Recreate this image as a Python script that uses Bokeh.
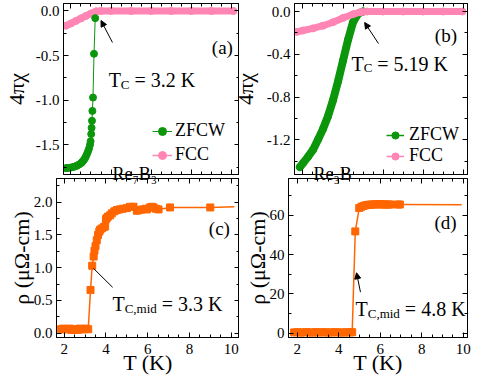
import numpy as np
from bokeh.plotting import figure
from bokeh.layouts import row, column
from bokeh.models import (FixedTicker, LinearAxis, Range1d, Label, Arrow, NormalHead,
                          Legend, LegendItem)
from bokeh.embed import file_html
from bokeh.resources import INLINE

FONT = "Liberation Serif"
GREEN = "#0b960b"
PINK = "#ff85b4"
ORANGE = "#ff6600"

# ---------------- data ----------------
# (a) Re7B3 susceptibility
a_zfcw_T = [1.75, 1.80, 1.90, 2.00, 2.10, 2.20, 2.30, 2.40, 2.50, 2.55,
            2.60, 2.65, 2.70, 2.75, 2.80, 2.85, 2.90, 2.95, 2.98, 3.01,
            3.03, 3.05, 3.07, 3.10, 3.15, 3.21]
a_zfcw_chi = [-1.762, -1.760, -1.758, -1.755, -1.750, -1.743, -1.734, -1.722, -1.706, -1.696,
              -1.683, -1.668, -1.650, -1.628, -1.603, -1.575, -1.543, -1.500, -1.46, -1.38,
              -1.31, -1.23, -1.12, -0.97, -0.48, -0.08]
a_fcc_T = [1.75, 2.00, 2.25, 2.50, 2.75, 3.00, 3.25, 3.50, 4.0, 5.0, 6.0, 7.0, 8.0, 9.0, 10.1]
a_fcc_chi = [-0.165, -0.140, -0.112, -0.083, -0.055, -0.028, -0.004, 0.0, 0.0, 0.0,
             0.0, 0.0, 0.0, 0.0, 0.0]

# (b) Re3B susceptibility
b_zfcw_T = [1.85, 2.00, 2.25, 2.50, 2.75, 3.00, 3.25, 3.50, 3.75, 4.00, 4.25, 4.50, 4.75, 5.00]
b_zfcw_chi = [-1.455, -1.420, -1.360, -1.295, -1.200, -1.100, -0.980, -0.830, -0.655, -0.460,
              -0.265, -0.100, -0.020, 0.0]
b_fcc_T = [1.70, 2.00, 2.50, 3.00, 3.50, 4.00, 4.50, 4.90, 5.20, 6.0, 7.0, 8.0, 9.0, 9.95]
b_fcc_chi = [-0.190, -0.178, -0.158, -0.133, -0.100, -0.060, -0.025, -0.005, 0.0, 0.0,
             0.0, 0.0, 0.0, 0.0]

# (c) Re7B3 resistivity
c_T = [1.85, 1.95, 2.05, 2.15, 2.25, 2.35, 2.45, 2.55, 2.65, 2.75, 2.85, 2.95, 3.05, 3.15,
       3.26, 3.34, 3.41, 3.45, 3.50, 3.56, 3.62, 3.68, 3.72, 3.80, 3.90, 3.96,
       4.00, 4.04, 4.10, 4.20, 4.28, 4.40, 4.52, 4.65, 4.80, 5.00,
       5.15, 5.32, 5.48, 5.60, 5.75, 5.90, 5.96, 6.10, 6.20, 6.28,
       6.40, 6.52, 7.07, 9.00, 10.15]
c_rho = [0.06, 0.07, 0.06, 0.06, 0.07, 0.05, 0.06, 0.06, 0.05, 0.07, 0.06, 0.06, 0.07, 0.06,
         0.66, 1.03, 1.17, 1.26, 1.33, 1.42, 1.50, 1.55, 1.58, 1.60, 1.62, 1.63,
         1.74, 1.76, 1.78, 1.80, 1.83, 1.86, 1.88, 1.89, 1.90, 1.91,
         1.93, 1.93, 1.87, 1.88, 1.89, 1.90, 1.89, 1.92, 1.93, 1.92,
         1.90, 1.89, 1.92, 1.92, 1.93]

# (d) Re3B resistivity
d_T = [1.85, 2.00, 2.15, 2.30, 2.45, 2.60, 2.75, 2.90, 3.05, 3.20,
       3.35, 3.50, 3.65, 3.80, 3.95, 4.10, 4.25, 4.40, 4.55, 4.65,
       4.80, 4.99, 5.10, 5.20, 5.30, 5.40, 5.50, 5.60, 5.70, 5.80,
       5.90, 6.00, 6.10, 6.20, 6.30, 6.40, 6.50, 6.85, 6.95, 9.93]
d_rho = [0.4, 0.5, 0.3, 0.4, 0.5, 0.4, 0.3, 0.5, 0.4, 0.4,
         0.5, 0.3, 0.4, 0.5, 0.4, 0.4, 0.3, 0.5, 0.4, 0.5,
         51.9, 63.8, 64.5, 64.9, 65.2, 65.4, 65.5, 65.6, 65.6, 65.7,
         65.7, 65.7, 65.7, 65.6, 65.6, 65.6, 65.6, 65.6, 65.6, 65.5]

X_TICKS = [2, 4, 6, 8, 10]
X_TICK_LABELS = ["2", "4", "6", "8", "10"]
A_TICKS = [-1.5, -1.0, -0.5, 0.0]
A_TICK_LABELS = ["-1.5", "-1.0", "-0.5", "0.0"]
B_TICKS = [-1.2, -0.8, -0.4, 0.0]
B_TICK_LABELS = ["-1.2", "-0.8", "-0.4", "0.0"]
C_TICKS = [0.0, 0.5, 1.0, 1.5, 2.0]
C_TICK_LABELS = ["0.0", "0.5", "1.0", "1.5", "2.0"]
D_TICKS = [0, 20, 40, 60]
D_TICK_LABELS = ["0", "20", "40", "60"]

# ---------------- styling helpers ----------------
X_MINOR = list(np.arange(1.5, 10.51, 0.5))
A_MINOR = list(np.arange(-2.0, 0.26, 0.25))
B_MINOR = list(np.arange(-1.6, 0.21, 0.2))
C_MINOR = list(np.arange(-0.25, 2.6, 0.25))
D_MINOR = list(np.arange(-10, 81, 10))

ADV = {"T": 0.611, "C": 0.667, ",": 0.25, "m": 0.778, "i": 0.278, "d": 0.5, " ": 0.25,
       "=": 0.564, ".": 0.25, "K": 0.722}


def text_width(s, size):
    return sum(ADV.get(ch, 0.5) for ch in s) * size


def style_axis(ax, ticks, minor, labels, show, standoff):
    ax.ticker = FixedTicker(ticks=ticks, minor_ticks=minor)
    ax.axis_line_color = "black"
    ax.axis_line_width = 1
    ax.major_tick_in = 5
    ax.major_tick_out = 0
    ax.minor_tick_in = 3
    ax.minor_tick_out = 0
    ax.major_tick_line_color = "black"
    ax.minor_tick_line_color = "black"
    if show:
        ax.major_label_overrides = dict(zip(ticks, labels))
        ax.major_label_text_font = FONT
        ax.major_label_text_font_size = "15px"
        ax.major_label_text_color = "black"
        ax.major_label_standoff = standoff
    else:
        ax.major_label_text_font_size = "1px"
        ax.major_label_text_color = None
        ax.major_label_standoff = 0


def make_panel(w, h, bl, br, bt, bb, xr, yr, yt, yminor, ylabels, show_x,
               ylab, ylab_standoff, xlab=None, transparent=False):
    p = figure(width=w, height=h, x_range=Range1d(*xr), y_range=Range1d(*yr),
               output_backend="svg", toolbar_location=None,
               x_axis_location=None, y_axis_location=None,
               min_border_left=bl, min_border_right=br,
               min_border_top=bt, min_border_bottom=bb)
    p.xgrid.visible = False
    p.ygrid.visible = False
    p.outline_line_color = "black"
    p.border_fill_color = None if transparent else "white"
    p.background_fill_color = None if transparent else "white"
    bx = LinearAxis()
    style_axis(bx, X_TICKS, X_MINOR, X_TICK_LABELS, show_x, 6)
    if xlab:
        bx.axis_label = xlab
        bx.axis_label_text_font = FONT
        bx.axis_label_text_font_size = "22px"
        bx.axis_label_text_font_style = "normal"
        bx.axis_label_text_color = "black"
        bx.axis_label_standoff = -7
    p.add_layout(bx, "below")
    tx = LinearAxis()
    style_axis(tx, X_TICKS, X_MINOR, X_TICK_LABELS, False, 0)
    p.add_layout(tx, "above")
    ly = LinearAxis()
    style_axis(ly, yt, yminor, ylabels, True, 4)
    ly.axis_label = ylab
    ly.axis_label_text_font = FONT
    ly.axis_label_text_font_size = "22px"
    ly.axis_label_text_font_style = "normal"
    ly.axis_label_text_color = "black"
    ly.axis_label_standoff = ylab_standoff
    p.add_layout(ly, "left")
    ry = LinearAxis()
    style_axis(ry, yt, yminor, ylabels, False, 0)
    p.add_layout(ry, "right")
    return p


def compound_label(p, x, text, standoff):
    """Compound name written across the bottom edge of a top panel."""
    ax = LinearAxis(ticker=FixedTicker(ticks=[x], minor_ticks=[]))
    ax.major_label_overrides = {x: text}
    ax.axis_line_color = None
    ax.major_tick_line_color = None
    ax.minor_tick_line_color = None
    ax.major_tick_in = 0
    ax.major_tick_out = 0
    ax.major_label_standoff = standoff
    ax.major_label_text_font = FONT
    ax.major_label_text_font_size = "18px"
    ax.major_label_text_color = "black"
    try:
        ax.major_label_background_fill_color = "white"
    except AttributeError:
        pass
    p.add_layout(ax, "below")


def rich(p, x, y, parts):
    dx = 0
    for txt, size, dy, lead in parts:
        dx += lead
        p.add_layout(Label(x=x, y=y, x_offset=dx, y_offset=dy, text=txt,
                           text_font=FONT, text_font_size=f"{size}px", text_color="black",
                           text_baseline="alphabetic", text_align="left"))
        dx += text_width(txt, size)


def tag(p, x, y, text):
    p.add_layout(Label(x=x, y=y, text=text, text_font=FONT, text_font_size="19px",
                       text_color="black", text_align="left", text_baseline="alphabetic"))


def arrow(p, xs, ys, xe, ye, head=True):
    end = NormalHead(size=6, fill_color="black", line_color="black", line_width=1) if head else None
    p.add_layout(Arrow(x_start=xs, y_start=ys, x_end=xe, y_end=ye, line_color="black",
                       line_width=1, end=end))


def legend(p, items, loc, gh, sp, gw, stand):
    lg = Legend(items=items, location=loc, orientation="vertical",
                label_text_font=FONT, label_text_font_size="18px", label_text_color="black",
                glyph_width=gw, glyph_height=gh, label_height=gh, spacing=sp,
                padding=0, margin=0, label_standoff=stand,
                border_line_color=None, background_fill_alpha=0)
    p.add_layout(lg)


AX = (1.63, 10.40)
BX = (1.58, 10.21)

# ---------------- panel (a) ----------------
pa = make_panel(239, 186, 56, 0, 3, 12, AX, (-1.833, 0.084), A_TICKS, A_MINOR, A_TICK_LABELS,
                False, "4πχ", 4)
pa.line(a_fcc_T, a_fcc_chi, line_color=PINK, line_width=7, line_cap="round", line_join="round")
fa_l = pa.line(a_fcc_T, a_fcc_chi, line_color=PINK, line_width=1.5)
fa_s = pa.scatter(a_fcc_T, a_fcc_chi, marker="circle", size=7, fill_color=PINK, line_color=PINK)
za_l = pa.line(a_zfcw_T, a_zfcw_chi, line_color=GREEN, line_width=1)
za_s = pa.scatter(a_zfcw_T, a_zfcw_chi, marker="circle", size=7, fill_color=GREEN, line_color=GREEN)
legend(pa, [LegendItem(label="ZFCW", renderers=[za_l, za_s]),
            LegendItem(label="FCC", renderers=[fa_l, fa_s])], (89, 9), 20, 3, 20, 3)
tag(pa, 9.02, -0.409, "(a)")
rich(pa, 3.88, -0.779, [("T", 20, 0, 0), ("C", 13, -4, 0), ("= 3.2 K", 20, 0, 5)])
arrow(pa, 4.07, -0.353, 3.50, -0.107)
compound_label(pa, 5.18, "Re₇B₃", -11)

# ---------------- panel (b) ----------------
pb = make_panel(270, 186, 59, 32, 3, 12, BX, (-1.525, 0.075), B_TICKS, B_MINOR, B_TICK_LABELS,
                False, "4πχ", 6)
pb.border_fill_color = None
pb.margin = (0, 0, 0, -10)
pb.line(b_zfcw_T, b_zfcw_chi, line_color=GREEN, line_width=8, line_cap="round", line_join="round")
zb_l = pb.line(b_zfcw_T, b_zfcw_chi, line_color=GREEN, line_width=1.5)
zb_s = pb.scatter(b_zfcw_T, b_zfcw_chi, marker="circle", size=7, fill_color=GREEN, line_color=GREEN)
pb.line(b_fcc_T, b_fcc_chi, line_color=PINK, line_width=7, line_cap="round", line_join="round")
fb_l = pb.line(b_fcc_T, b_fcc_chi, line_color=PINK, line_width=1.5)
fb_s = pb.scatter(b_fcc_T, b_fcc_chi, marker="circle", size=7, fill_color=PINK, line_color=PINK)
legend(pb, [LegendItem(label="ZFCW", renderers=[zb_l, zb_s]),
            LegendItem(label="FCC", renderers=[fb_l, fb_s])], (92, 8), 18, 0, 18, 5)
tag(pb, 8.58, -0.2245, "(b)")
rich(pb, 4.42, -0.489, [("T", 20, 0, 0), ("C", 13, -4, 0), ("= 5.19 K", 20, 0, 5)])
arrow(pb, 5.77, -0.30, 5.08, -0.103)
compound_label(pb, 3.48, "Re₃B", -11)

# ---------------- panel (c) ----------------
pc = make_panel(239, 203, 56, 0, 0, 44, AX, (-0.066, 2.362), C_TICKS, C_MINOR, C_TICK_LABELS,
                True, "ρ (μΩ-cm)", -3, xlab="T (K)", transparent=True)
pc.line(c_T, c_rho, line_color=ORANGE, line_width=1.5)
pc.scatter(c_T[:-1], c_rho[:-1], marker="square", size=7, fill_color=ORANGE, line_color=ORANGE)
tag(pc, 8.93, 1.60, "(c)")
rich(pc, 4.31, 0.438, [("T", 20, 0, 0), ("C,mid", 13, -4, 0), ("= 3.3 K", 20, 0, 5)])
arrow(pc, 4.32, 0.70, 3.40, 0.99, head=False)

# ---------------- panel (d) ----------------
pd_ = make_panel(260, 203, 49, 32, 0, 44, BX, (-2.2, 78.86), D_TICKS, D_MINOR, D_TICK_LABELS,
                 True, "ρ (μΩ-cm)", -3, xlab="T (K)", transparent=True)
pd_.line(d_T, d_rho, line_color=ORANGE, line_width=1.5)
pd_.scatter(d_T[:-1], d_rho[:-1], marker="square", size=7, fill_color=ORANGE, line_color=ORANGE)
tag(pd_, 8.62, 56.4, "(d)")
rich(pd_, 4.81, 12.1, [("T", 20, 0, 0), ("C,mid", 13, -4, 0), ("= 4.8 K", 20, 0, 5)])
arrow(pd_, 5.05, 20.9, 4.86, 30.8)

top = row(pa, pb)
bottom = row(pc, pd_)
bottom.margin = (-8, 0, 0, 0)
layout = column(top, bottom)

open("out.html", "w").write(file_html(layout, INLINE))
